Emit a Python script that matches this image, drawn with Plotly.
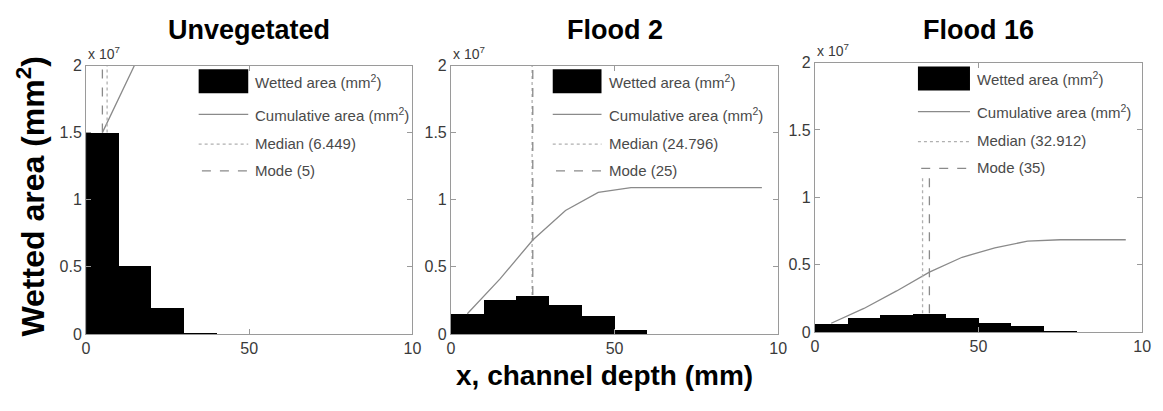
import numpy as np
import plotly.graph_objects as go

# ---------------- data ----------------
panel_titles = ["Unvegetated", "Flood 2", "Flood 16"]
bin_centers = [5, 15, 25, 35, 45, 55, 65, 75, 85, 95]          # channel depth (mm)
bin_width = 10
value_scale = 1e7                                               # values below are x 10^7 mm^2
unvegetated_area = [1.50, 0.51, 0.20, 0.01, 0, 0, 0, 0, 0, 0]
flood2_area = [0.15, 0.26, 0.29, 0.22, 0.135, 0.035, 0, 0, 0, 0]
flood16_area = [0.065, 0.11, 0.13, 0.14, 0.11, 0.07, 0.05, 0.01, 0, 0]
medians = [6.449, 24.796, 32.912]
modes = [5, 25, 35]
stat_line_top = [2.0, 2.0, 1.15]                                # x 10^7
x_tick_vals = [0, 50, 100]
x_tick_text = ["0", "50", "10"]
y_tick_vals = [0, 0.5, 1, 1.5, 2]
y_tick_text = ["0", "0.5", "1", "1.5", "2"]
x_range = [0, 100]
y_range = [0, 2]

areas = [unvegetated_area, flood2_area, flood16_area]

# ---------------- layout geometry ----------------
W, H = 1163, 411
x_domains = [(83 / W, 413 / W), (452 / W, 783 / W), (820 / W, 1151 / W)]
y_domains = [(1 - 340 / H, 1 - 60 / H), (1 - 340 / H, 1 - 60 / H), (1 - 338 / H, 1 - 57 / H)]
leg_sym_x0 = [0.345, 0.311, 0.315]
leg_sym_x1 = [0.497, 0.460, 0.474]
leg_text_x = [0.512, 0.478, 0.490]
ph = 280.0
def ry(px):
    return 1 - px / ph

FONT = "Liberation Sans, Arial, sans-serif"
GRAY_LINE = "#8a8a8a"
AXIS_GRAY = "#9a9a9a"
TEXT_GRAY = "#3a3a3a"

fig = go.Figure()
shapes = []
annotations = []

for i in range(3):
    xa = "x" if i == 0 else f"x{i+1}"
    ya = "y" if i == 0 else f"y{i+1}"
    vals = np.array(areas[i])
    fig.add_trace(go.Bar(
        x=bin_centers, y=vals * value_scale, width=bin_width,
        marker=dict(color="black", line=dict(width=0)),
        xaxis=xa, yaxis=ya, showlegend=False, name="Wetted area (mm²)",
    ))
    fig.add_trace(go.Scatter(
        x=bin_centers, y=np.cumsum(vals) * value_scale, mode="lines",
        line=dict(color=GRAY_LINE, width=1.3),
        xaxis=xa, yaxis=ya, showlegend=False, name="Cumulative area (mm²)",
    ))
    mode_bin = int(np.argmin(np.abs(np.array(bin_centers) - modes[i])))
    base = vals[mode_bin] * value_scale
    top = stat_line_top[i] * value_scale
    fig.add_trace(go.Scatter(
        x=[medians[i], medians[i]], y=[base, top], mode="lines",
        line=dict(color="#b0b0b0", width=1.3, dash="dot"),
        xaxis=xa, yaxis=ya, showlegend=False, name=f"Median ({medians[i]})",
    ))
    fig.add_trace(go.Scatter(
        x=[modes[i], modes[i]], y=[base, top], mode="lines",
        line=dict(color=GRAY_LINE, width=1.3, dash="dash"),
        xaxis=xa, yaxis=ya, showlegend=False, name=f"Mode ({modes[i]})",
    ))

    axis_common = dict(
        showline=True, linecolor=AXIS_GRAY, linewidth=1, mirror="ticks",
        ticks="inside", ticklen=5, tickcolor=AXIS_GRAY, showgrid=False,
        zeroline=False, tickfont=dict(family=FONT, size=16, color=TEXT_GRAY),
    )
    fig.layout[f"xaxis{'' if i == 0 else i+1}"] = dict(
        domain=list(x_domains[i]), range=x_range, anchor=ya,
        tickvals=x_tick_vals, ticktext=x_tick_text, **axis_common)
    fig.layout[f"yaxis{'' if i == 0 else i+1}"] = dict(
        domain=list(y_domains[i]), range=[r * value_scale for r in y_range], anchor=xa,
        tickvals=[v * value_scale for v in y_tick_vals], ticktext=y_tick_text, **axis_common)

    xd = f"{xa} domain"
    yd = f"{ya} domain"
    # manual legend
    shapes.append(dict(type="rect", xref=xd, yref=yd, x0=leg_sym_x0[i], x1=leg_sym_x1[i],
                       y0=ry(29), y1=ry(4), fillcolor="black", line=dict(width=0)))
    shapes.append(dict(type="line", xref=xd, yref=yd, x0=leg_sym_x0[i], x1=leg_sym_x1[i],
                       y0=ry(51), y1=ry(51), line=dict(color=GRAY_LINE, width=1.3)))
    shapes.append(dict(type="line", xref=xd, yref=yd, x0=leg_sym_x0[i], x1=leg_sym_x1[i],
                       y0=ry(82), y1=ry(82), line=dict(color="#b0b0b0", width=1.3, dash="dot")))
    shapes.append(dict(type="line", xref=xd, yref=yd, x0=leg_sym_x0[i] + 0.01, x1=leg_sym_x1[i],
                       y0=ry(110), y1=ry(110), line=dict(color=GRAY_LINE, width=1.3, dash="dash")))
    leg_texts = ["Wetted area (mm<sup>2</sup>)", "Cumulative area (mm<sup>2</sup>)",
                 f"Median ({medians[i]})", f"Mode ({modes[i]})"]
    leg_rows = [17, 51, 81, 109]
    for t, r in zip(leg_texts, leg_rows):
        annotations.append(dict(text=t, xref=xd, yref=yd, x=leg_text_x[i], y=ry(r),
                                xanchor="left", yanchor="middle", showarrow=False,
                                font=dict(family=FONT, size=15, color="#4a4a4a")))
    # exponent label
    annotations.append(dict(text="x 10<sup>7</sup>", xref=xd, yref=yd, x=0, y=1,
                            xanchor="left", yanchor="bottom", yshift=2, showarrow=False,
                            font=dict(family=FONT, size=14, color=TEXT_GRAY)))
    # panel title
    annotations.append(dict(text=f"<b>{panel_titles[i]}</b>", xref="paper", yref="paper",
                            x=(x_domains[i][0] + x_domains[i][1]) / 2, y=1 - 23 / H,
                            xanchor="center", yanchor="middle", showarrow=False,
                            font=dict(family=FONT, size=27, color="black")))

annotations.append(dict(text="<b>Wetted area (mm<sup>2</sup>)</b>", xref="paper", yref="paper",
                        x=27 / W, y=1 - 197 / H, textangle=-90, xanchor="center", yanchor="middle",
                        showarrow=False, font=dict(family=FONT, size=32, color="black")))
annotations.append(dict(text="<b>x, channel depth (mm)</b>", xref="paper", yref="paper",
                        x=607 / W, y=1 - 383 / H, xanchor="center", yanchor="middle",
                        showarrow=False, font=dict(family=FONT, size=28, color="black")))

fig.update_layout(
    width=W, height=H, margin=dict(l=0, r=0, t=0, b=0),
    paper_bgcolor="white", plot_bgcolor="white", bargap=0,
    shapes=shapes, annotations=annotations, showlegend=False,
)

fig.write_html("out.html")
